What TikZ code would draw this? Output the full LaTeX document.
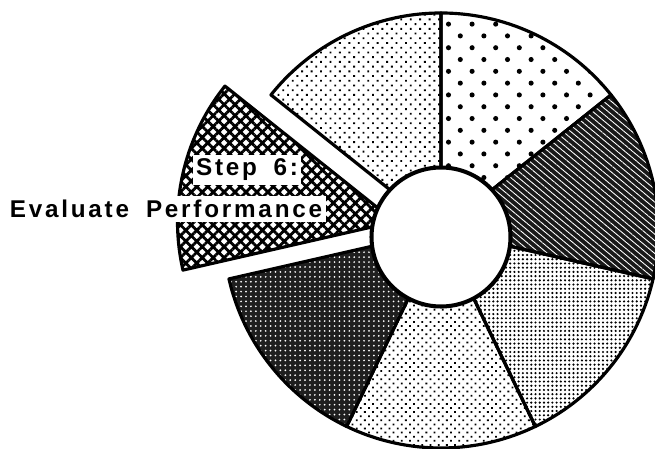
\documentclass[tikz,border=0pt]{standalone}
\usepackage{fontspec}
\newfontfamily\chartfont{Liberation Sans}[LetterSpace=11.5]
\usetikzlibrary{patterns.meta,positioning}

\begin{document}
\begin{tikzpicture}[
  x=0.02cm, y=0.02cm,
  %% Wedge outline
  seg/.style={draw=black, line width=1.8pt, line join=round},
  %% Wedge fills
  heartfill/.style={pattern={Dots[distance=9.5pt, angle=45, radius=1.45pt]}},
  lightfill/.style={pattern={Dots[distance=3.8pt, angle=45, radius=0.75pt]}},
  midfill/.style={pattern={Dots[distance=3.3pt, angle=45, radius=0.72pt]}},
  finefill/.style={pattern={Dots[distance=2.4pt, radius=0.68pt]}},
  scribblefill/.style={preaction={fill=black!90},
    pattern={Lines[angle=-40, distance=2.8pt, line width=0.5pt]},
    pattern color=white},
  darkfill/.style={preaction={fill=black!88},
    pattern={Dots[distance=2.8pt, radius=0.55pt]}, pattern color=white},
  crossfill/.style={pattern={Hatch[angle=45, distance=4.4pt, line width=1.6pt]}},
  %% Label boxes
  tag/.style={fill=white, inner xsep=2pt, inner ysep=2.5pt,
    font=\chartfont\bfseries\fontsize{13.8}{16}\selectfont},
]
\useasboundingbox (0,0) rectangle (655,449);

%% ── Centres ────────────────────────────────────────────────────────────
\coordinate (ctr) at (441,218.5);
\coordinate (offctr) at (395,227.3);
\coordinate (hub) at (441,212);

%% ── Wedges in place ────────────────────────────────────────────────────
\foreach \a/\b/\fillsty in {90/38.57/heartfill, 38.57/-12.86/scribblefill,
    -12.86/-64.29/finefill, -64.29/-115.71/midfill,
    -115.71/-167.14/darkfill, 141.43/90/lightfill}
  \draw[seg, \fillsty] (ctr) -- ++(\a:217.5)
    arc[start angle=\a, end angle=\b, radius=217.5] -- cycle;

%% ── Pulled-out wedge (Step 6) ──────────────────────────────────────────
\draw[seg, crossfill] (offctr) -- ++(141.43:217.5)
  arc[start angle=141.43, end angle=192.86, radius=217.5] -- cycle;

%% ── Hole ───────────────────────────────────────────────────────────────
\draw[line width=2.3pt, fill=white] (hub) circle[radius=69.5];

%% ── Label ──────────────────────────────────────────────────────────────
\node[tag] (step) at (247,279) {Step\hspace{0.68em}6:};
\node[tag, anchor=east] (evaluate) at (326,240)
  {Evaluate\hspace{0.7em}Performance};

\end{tikzpicture}
\end{document}
